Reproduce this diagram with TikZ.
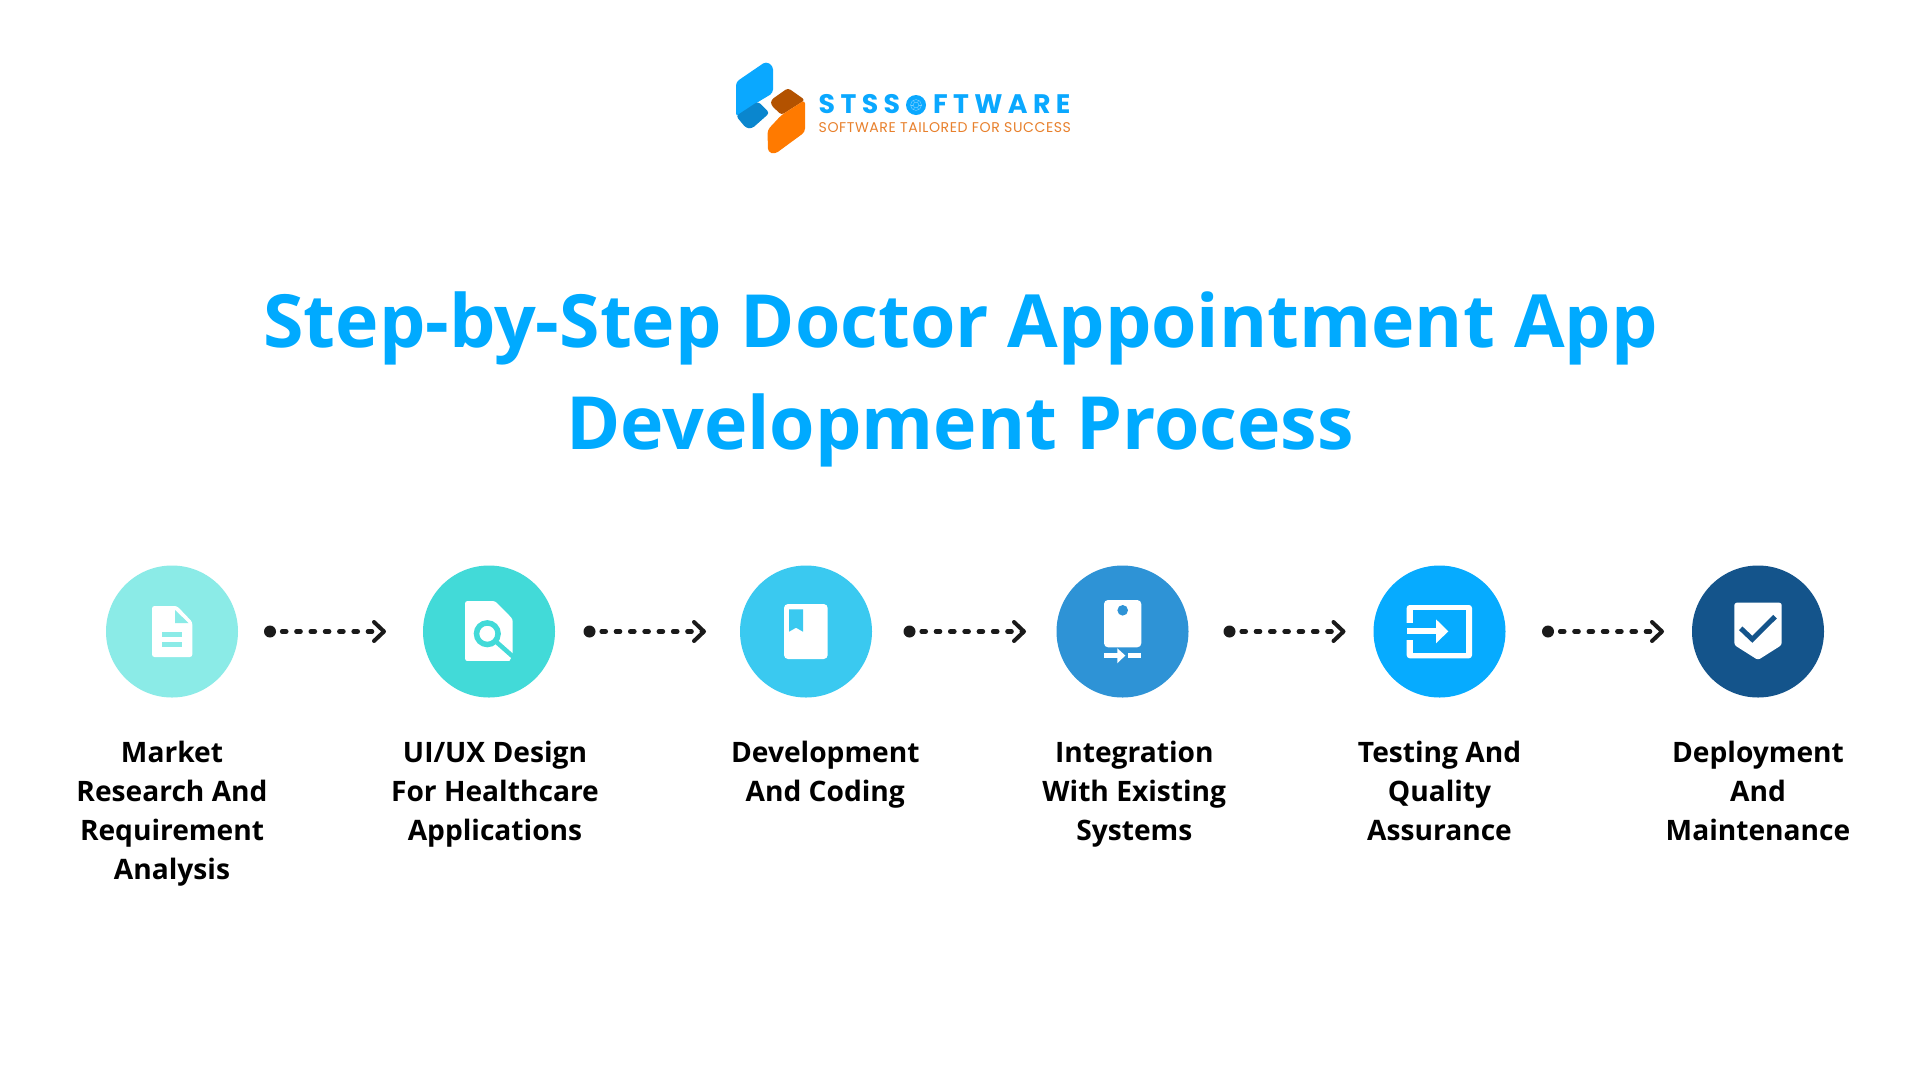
\documentclass[tikz,border=0pt]{standalone}
\usepackage{fontspec}
\setmainfont{Open Sans}
\newfontfamily\logofont[LetterSpace=20]{Poppins}
\newfontfamily\tagfont[LetterSpace=4]{Poppins}
\usetikzlibrary{arrows.meta}
\definecolor{cOne}{HTML}{8BEBE7}
\definecolor{cTwo}{HTML}{42DAD8}
\definecolor{cThree}{HTML}{3AC9F0}
\definecolor{cFour}{HTML}{2E93D6}
\definecolor{cFive}{HTML}{06ABFF}
\definecolor{cSix}{HTML}{14548B}
\definecolor{ink}{HTML}{1A1A1A}
\definecolor{titleblue}{HTML}{00AAFF}
\definecolor{logoblue}{HTML}{0AA8FF}
\definecolor{logodark}{HTML}{0A86CE}
\definecolor{logobrown}{HTML}{B35200}
\definecolor{logoorange}{HTML}{FF7A00}
\definecolor{tagorange}{HTML}{E8802C}
\definecolor{ringblue}{HTML}{7CCFFF}
\tikzset{
  stepcirc/.style={circle,minimum size=132pt,inner sep=0pt,draw=none},
  dotnode/.style={circle,fill=ink,minimum size=12pt,inner sep=0pt,draw=none},
  flow/.style={draw=ink,line width=4.6pt,line cap=round,dash pattern=on 4pt off 10.3pt,dash phase=8.3pt,
    -{Straight Barb[length=10pt,width=19pt,line width=4pt,round]}},
  steplabel/.style={anchor=north,align=center,text=black,font=\bfseries\fontsize{28.15}{39}\selectfont,inner sep=0pt},
  titleline/.style={anchor=base,text=titleblue,font=\bfseries\fontsize{73.4}{90}\selectfont,inner sep=0pt},
  logoletters/.style={anchor=base west,inner sep=0pt,text=logoblue,font=\logofont\bfseries\fontsize{26.8}{30}\selectfont},
}
\begin{document}
\begin{tikzpicture}[x=1pt,y=-1pt]
\useasboundingbox (0,0) rectangle (1920,1080);
\fill[white] (0,0) rectangle (1920,1080);

% logo
\fill[logoblue,rounded corners=3.5pt] (736,82) -- (766,61.5) -- (773,66) -- (773,93) -- (758,102) -- (736,117) -- cycle;
\fill[logodark,rounded corners=3pt] (736,116) -- (758,101.5) -- (769.5,113) -- (752,128.5) -- (746,128) -- cycle;
\fill[logobrown,rounded corners=3pt] (771,100) -- (788,88) -- (805,100) -- (781.5,115) -- (771,105) -- cycle;
\fill[logoorange,rounded corners=3.5pt] (805,100) -- (805,132) -- (775,154) -- (768,152) -- (767.5,130) -- (781.5,115) -- cycle;
\node[logoletters] (logoa) at (818.5,113.7) {STSS};
\node[circle,fill=logoblue,minimum size=20pt,inner sep=0pt] (logoo) at (916,105) {};
\draw[ringblue,line width=.4pt] (logoo) circle[radius=5.5pt] (logoo) circle[radius=2.8pt];
\foreach \a in {0,60,...,300}{\draw[ringblue,line width=.4pt] (logoo) ++(\a:2.8pt) -- ++(\a:2.7pt);}
\node[logoletters] (logob) at (933,113.7) {FTWARE};
\node[anchor=base west,inner sep=0pt,text=tagorange,font=\tagfont\fontsize{14.1}{16}\selectfont] (logotag) at (818.5,132) {SOFTWARE TAILORED FOR SUCCESS};

% title
\node[titleline] (t1) at (960.5,347) {Step-by-Step Doctor Appointment App};
\node[titleline] (t2) at (960,449) {Development Process};

% circles
\node[stepcirc,fill=cOne] (s1) at (172,631.5) {};
\node[stepcirc,fill=cTwo] (s2) at (489,631.5) {};
\node[stepcirc,fill=cThree] (s3) at (806,631.5) {};
\node[stepcirc,fill=cFour] (s4) at (1122.5,631.5) {};
\node[stepcirc,fill=cFive] (s5) at (1439.5,631.5) {};
\node[stepcirc,fill=cSix] (s6) at (1758,631.5) {};

% connectors
\node[dotnode] (d1) at (270,631.5) {}; \coordinate (e1) at (386,631.5);
\node[dotnode] (d2) at (589.5,631.5) {}; \coordinate (e2) at (706,631.5);
\node[dotnode] (d3) at (909.5,631.5) {}; \coordinate (e3) at (1026,631.5);
\node[dotnode] (d4) at (1229.5,631.5) {}; \coordinate (e4) at (1345.5,631.5);
\node[dotnode] (d5) at (1548,631.5) {}; \coordinate (e5) at (1664,631.5);
\foreach \i in {1,...,5}{\draw[flow] (d\i) -- (e\i);}

% icon 1: document
\fill[white,rounded corners=2.5pt] (152,606) -- (177,606) -- (192.3,622) -- (192.3,657) -- (152,657) -- cycle;
\fill[cOne] (175,610) -- (188.5,623) -- (175,623) -- cycle;
\fill[cOne] (162,631.7) rectangle (182.3,636.7);
\fill[cOne] (162,641.7) rectangle (182.3,647);

% icon 2: document with lens
\fill[white,rounded corners=2.5pt] (465,601) -- (495,601) -- (512.7,619) -- (512.7,664) -- (465,661) -- cycle;
\fill[cTwo] (512.9,654.5) -- (512.9,665) -- (509,665) -- (462,665) -- (462,661.2) -- (509.5,661.2) -- cycle;
\draw[cTwo,line width=5.5pt] (487.3,633.7) circle[radius=10.8pt];
\draw[cTwo,line width=4.5pt] (497,642.5) -- (514,657.5);

% icon 3: book
\fill[white,rounded corners=4pt] (784,604) rectangle (827.7,659);
\fill[cThree] (789,609.3) -- (803,609.3) -- (803,631.7) -- (796,627.7) -- (789,631.7) -- cycle;

% icon 4: device
\fill[white,rounded corners=4pt] (1104,600) rectangle (1141.3,647.3);
\fill[cFour] (1122.7,610.3) circle[radius=5.3pt];
\fill[white] (1104,652.7) rectangle (1118,658.3);
\fill[white] (1117.3,648.3) -- (1125.3,655.5) -- (1117.3,663.3) -- cycle;
\fill[white] (1128.3,652.7) rectangle (1141.3,658.3);

% icon 5: input
\fill[white,rounded corners=3pt] (1406.7,605) rectangle (1472,658.3);
\fill[cFive] (1412.7,610) rectangle (1466,653.3);
\fill[cFive] (1405,622.7) rectangle (1414,640);
\fill[white] (1406.7,628.3) rectangle (1437.3,634.3);
\fill[white] (1436,619.3) -- (1448.3,631.3) -- (1436,643.3) -- cycle;

% icon 6: shield
\fill[white,rounded corners=2.5pt] (1734.3,602.7) -- (1781.7,602.7) -- (1781.7,645) -- (1758,660) -- (1734.3,645) -- cycle;
\draw[cSix,line width=5pt] (1740.7,628.3) -- (1752.3,639.3) -- (1775,616.7);

% labels
\node[steplabel] (l1) at (172,741) {Market\\Research And\\Requirement\\Analysis};
\node[steplabel] (l2) at (495,741) {UI/UX Design\\For Healthcare\\Applications};
\node[steplabel] (l3) at (825.3,741) {Development\\And Coding};
\node[steplabel] (l4) at (1134.3,741) {Integration\\With Existing\\Systems};
\node[steplabel] (l5) at (1439.5,741) {Testing And\\Quality\\Assurance};
\node[steplabel] (l6) at (1758,741) {Deployment\\And\\Maintenance};
\end{tikzpicture}
\end{document}
